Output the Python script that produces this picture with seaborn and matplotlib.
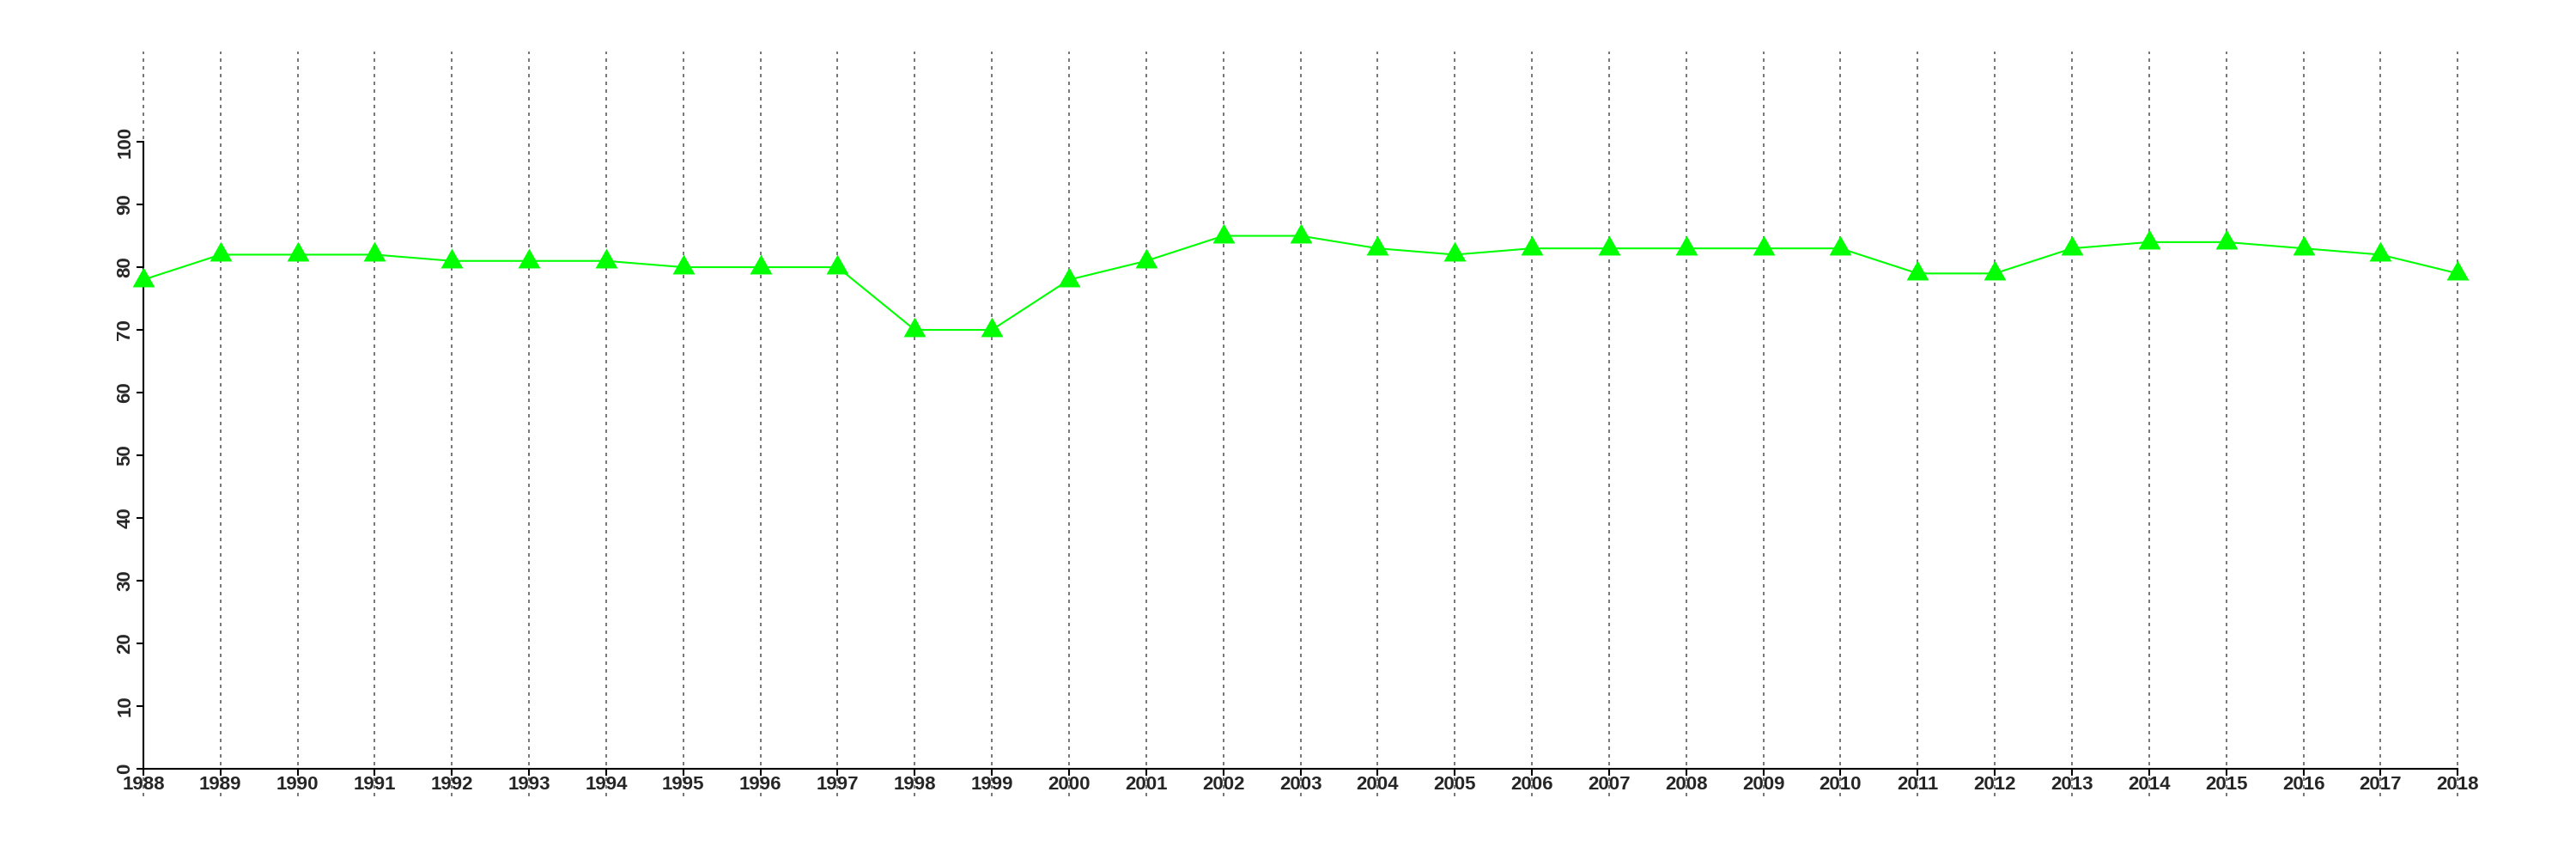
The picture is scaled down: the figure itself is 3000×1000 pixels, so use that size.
import matplotlib
matplotlib.use("Agg")
import matplotlib.pyplot as plt
import seaborn as sns
import pandas as pd

years = list(range(1988, 2019))
values = [78, 82, 82, 82, 81, 81, 81, 80, 80, 80, 70, 70, 78, 81, 85, 85,
          83, 82, 83, 83, 83, 83, 83, 79, 79, 83, 84, 84, 83, 82, 79]
y_ticks = list(range(0, 101, 10))

sns.set_style("white")
plt.rcParams['font.family'] = ['Liberation Sans', 'DejaVu Sans']

df = pd.DataFrame({'year': years, 'value': values})

fig = plt.figure(figsize=(30, 10), dpi=100)
ax = fig.add_axes([0.0197, 0.073, 0.9703, 0.867])

# spines first: moving them resets the tick labels
for s in ['top', 'right']:
    ax.spines[s].set_visible(False)
ax.spines['left'].set_position(('data', 1988))
ax.spines['bottom'].set_position(('data', 0))

# triangle like R's pch=17, point sits low inside the triangle
tri = [(0, 15), (-13, -8), (13, -8), (0, 15)]
sns.lineplot(data=df, x='year', y='value', ax=ax, color='#00ff00',
             linewidth=1.5, marker=tri, markersize=21.5,
             markeredgewidth=0, markerfacecolor='#00ff00', zorder=3)

ax.set_xlim(1986.8, 2019.2)
ax.set_ylim(-4.4, 114.4)
ax.set_xticks(years)
ax.set_xticklabels([str(y) for y in years])
ax.set_yticks(y_ticks)
ax.set_yticklabels([str(v) for v in y_ticks], rotation=90, va='center')
ax.set_xlabel('')
ax.set_ylabel('')

ax.xaxis.grid(True, color='#7a7a7a', linewidth=1.44, linestyle=(0, (2.0, 2.5)))
ax.yaxis.grid(False)

ax.spines['left'].set_bounds(0, 100)
ax.spines['bottom'].set_bounds(1988, 2018)
for s in ['left', 'bottom']:
    ax.spines[s].set_linewidth(1.5)
    ax.spines[s].set_color('black')

ax.tick_params(axis='both', which='major', length=5.5, width=1.5,
               color='black', direction='out', labelsize=16)
ax.tick_params(axis='x', pad=0.5, bottom=True)
ax.tick_params(axis='y', pad=2, left=True)
for lab in ax.get_xticklabels() + ax.get_yticklabels():
    lab.set_fontweight('bold')

fig.savefig('out.png', dpi=100)
